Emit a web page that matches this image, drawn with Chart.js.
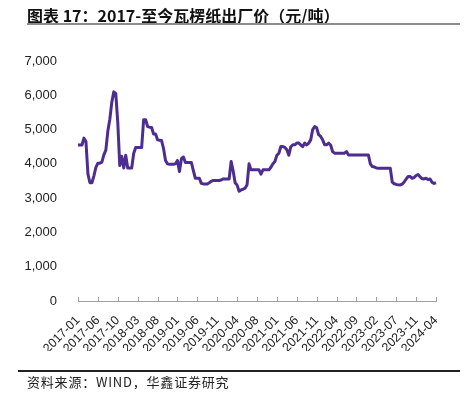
<!DOCTYPE html>
<html>
<head>
<meta charset="utf-8">
<script src="https://cdn.jsdelivr.net/npm/chart.js@4/dist/chart.umd.min.js"></script>
<style>
  body { margin: 0; background: #fff; }
  #wrap { position: relative; width: 468px; height: 397px; overflow: hidden; }
  #chart { position: absolute; left: 0; top: 0; }
  .title { position: absolute; left: 27px; top: 3px; font: bold 16px "Noto Sans CJK SC", sans-serif; color: #111; white-space: nowrap; }
  .title-line { position: absolute; left: 27px; top: 23px; width: 433px; height: 2px; background: #8c8c8c; }
  .src-line { position: absolute; left: 18px; top: 370px; width: 442px; height: 1.5px; background: #222; }
  .source { position: absolute; left: 27px; top: 372px; font: 13px "Noto Sans CJK SC", sans-serif; letter-spacing: 0.8px; color: #222; white-space: nowrap; }
</style>
</head>
<body>
<div id="wrap">
  <canvas id="chart" width="468" height="397"></canvas>
  <div class="title">图表 17：2017-至今瓦楞纸出厂价（元/吨）</div>
  <div class="title-line"></div>
  <div class="src-line"></div>
  <div class="source">资料来源：WIND，华鑫证券研究</div>
</div>
<script>
// x axis labels, one every 10 points (points are two weeks apart)
var tickLabels = ['2017-01', '2017-06', '2017-10', '2018-03', '2018-08', '2019-01', '2019-06',
  '2019-11', '2020-04', '2020-08', '2021-01', '2021-06', '2021-11', '2022-04', '2022-09',
  '2023-02', '2023-07', '2023-11', '2024-04'];

// 瓦楞纸出厂价, 元/吨, every two weeks
var prices = [
  4550, 4550, 4550, 4750, 4650, 3700, 3450, 3450, 3650, 3900,
  4020, 4020, 4050, 4260, 4400, 4950, 5300, 5800, 6100, 6050,
  5200, 3950, 4220, 3880, 4250, 3880, 3880, 3880, 4300, 4475,
  4475, 4475, 4475, 5285, 5285, 5090, 5070, 5060, 4870, 4870,
  4700, 4690, 4680, 4450, 4100, 4000, 3990, 3990, 3990, 4000,
  4100, 3780, 4150, 4200, 4040, 4040, 4040, 4040, 3800, 3580,
  3580, 3580, 3430, 3415, 3415, 3415, 3450, 3490, 3515, 3515,
  3515, 3515, 3530, 3560, 3560, 3560, 3560, 4070, 3800, 3450,
  3380, 3200, 3240, 3260, 3290, 3390, 4000, 3825, 3825, 3825,
  3825, 3825, 3700, 3825, 3825, 3825, 3825, 3900, 4000, 4070,
  4250, 4310, 4505, 4505, 4480, 4410, 4250, 4500, 4555, 4555,
  4605, 4605, 4550, 4505, 4605, 4550, 4605, 4700, 5000, 5090,
  5050, 4850, 4800, 4700, 4560, 4555, 4605, 4550, 4360, 4310,
  4310, 4310, 4310, 4310, 4310, 4360, 4260, 4260, 4260, 4260,
  4260, 4260, 4260, 4260, 4260, 4260, 4260, 4000, 3920, 3910,
  3880, 3875, 3875, 3875, 3875, 3875, 3875, 3875, 3470, 3420,
  3400, 3390, 3385, 3410, 3470, 3560, 3630, 3630, 3580, 3600,
  3660, 3690, 3620, 3570, 3560, 3580, 3540, 3560, 3460, 3430,
  3450
];

// one category per point, two weeks apart from the first week of 2017
var categories = [];
var d = new Date(2017, 0, 6);
for (var i = 0; i < prices.length; i++) {
  categories.push(d.getFullYear() + '-' + String(d.getMonth() + 1).padStart(2, '0') + '-' + String(d.getDate()).padStart(2, '0'));
  d.setDate(d.getDate() + 14);
}

// small tick marks pointing up into the plot, only where a label is
const innerTicks = {
  id: 'innerTicks',
  afterDatasetsDraw(chart) {
    const xs = chart.scales.x, ctx = chart.ctx, bottom = chart.chartArea.bottom;
    ctx.save();
    ctx.strokeStyle = '#a0a0a0';
    ctx.lineWidth = 1;
    for (let i = 0; i < categories.length; i += 10) {
      const px = Math.round(xs.getPixelForValue(i)) + 0.5;
      ctx.beginPath();
      ctx.moveTo(px, bottom);
      ctx.lineTo(px, bottom - 4);
      ctx.stroke();
    }
    ctx.restore();
  }
};

const ctx = document.getElementById('chart').getContext('2d');
const lineChart = new Chart(ctx, {
  type: 'line',
  data: {
    labels: categories,
    datasets: [
      {
        data: prices,
        borderColor: '#4d2d8f',
        borderWidth: 3,
        pointRadius: 0,
        tension: 0,
        fill: false,
        borderJoinStyle: 'round'
      }
    ]
  },
  options: {
    responsive: false,
    animation: false,
    devicePixelRatio: 1,
    layout: { padding: { left: 8, right: 32, top: 61, bottom: 46 } },
    plugins: {
      legend: { display: false },
      tooltip: { enabled: false }
    },
    scales: {
      x: {
        offset: false,
        grid: { display: false },
        border: { display: true, color: '#a0a0a0', width: 1 },
        afterFit: function(scale) { scale.height = 50; },
        ticks: {
          autoSkip: false,
          minRotation: 45,
          maxRotation: 45,
          padding: 4,
          color: '#222',
          font: { family: 'Liberation Sans, Arial, sans-serif', size: 12.5 },
          callback: function(val, index) {
            return index % 10 === 0 ? tickLabels[index / 10] : '';
          }
        }
      },
      y: {
        min: 0,
        max: 7000,
        grid: { display: false },
        border: { display: false },
        afterFit: function(scale) { scale.width = 70; },
        ticks: {
          stepSize: 1000,
          padding: 13,
          color: '#222',
          font: { family: 'Liberation Sans, Arial, sans-serif', size: 13 },
          callback: function(v) { return v.toLocaleString('en-US'); }
        }
      }
    }
  },
  plugins: [innerTicks]
});
</script>
</body>
</html>
